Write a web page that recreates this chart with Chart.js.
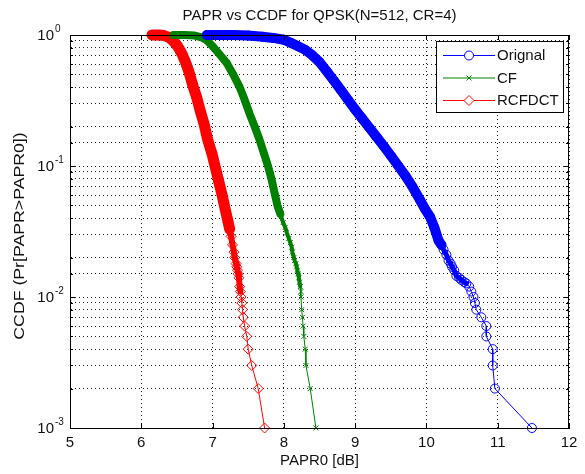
<!DOCTYPE html>
<html>
<head>
<meta charset="utf-8">
<script src="https://cdn.jsdelivr.net/npm/chart.js@4/dist/chart.umd.min.js"></script>
<style>
  body { margin: 0; background: #fff; }
  canvas { display: block; }
</style>
</head>
<body>
<canvas id="papr" width="585" height="474"></canvas>
<script>
// values (PAPR0 in dB, CCDF as probability)
const xTickValues = [5, 6, 7, 8, 9, 10, 11, 12];
const yDecades = [1, 0.1, 0.01, 0.001];
const seriesNames = ['Orignal', 'CF', 'RCFDCT'];

const orignalX = [6.92, 7.05, 7.15, 7.30, 7.50, 7.70, 7.85, 8.00, 8.10, 8.20, 8.30, 8.40, 8.50, 8.60, 8.70, 8.80, 8.90, 9.00, 9.10, 9.20, 9.30, 9.40, 9.50, 9.60, 9.70, 9.80, 9.91, 9.98, 10.05, 10.11, 10.17, 10.21, 10.24, 10.28, 10.31, 10.34, 10.36, 10.39, 10.42, 10.46, 10.49, 10.53, 10.56, 10.60, 10.63, 10.66, 10.68, 10.70, 10.77, 10.84, 10.84, 10.93, 10.93, 10.96, 11.48];
const orignalY = [1.0, 1.0, 0.999, 0.998, 0.99, 0.97, 0.95, 0.92, 0.87, 0.82, 0.77, 0.70, 0.62, 0.53, 0.45, 0.38, 0.32, 0.27, 0.23, 0.196, 0.167, 0.142, 0.12, 0.101, 0.085, 0.070, 0.055, 0.047, 0.041, 0.034, 0.027, 0.025, 0.023, 0.021, 0.019, 0.018, 0.017, 0.016, 0.0145, 0.014, 0.0135, 0.013, 0.0127, 0.012, 0.011, 0.010, 0.009, 0.008, 0.007, 0.006, 0.005, 0.004, 0.003, 0.002, 0.001];

const cfX = [6.45, 6.60, 6.75, 6.85, 6.93, 7.01, 7.10, 7.20, 7.29, 7.38, 7.45, 7.52, 7.59, 7.66, 7.72, 7.78, 7.83, 7.87, 7.91, 7.95, 7.99, 8.02, 8.04, 8.07, 8.09, 8.11, 8.12, 8.14, 8.15, 8.17, 8.18, 8.19, 8.20, 8.21, 8.22, 8.23, 8.24, 8.24, 8.25, 8.26, 8.27, 8.28, 8.30, 8.31, 8.37, 8.45];
const cfY = [1.0, 0.999, 0.99, 0.96, 0.90, 0.81, 0.71, 0.61, 0.50, 0.40, 0.32, 0.25, 0.20, 0.158, 0.125, 0.099, 0.078, 0.062, 0.050, 0.043, 0.037, 0.034, 0.031, 0.028, 0.026, 0.024, 0.022, 0.020, 0.019, 0.018, 0.017, 0.016, 0.015, 0.014, 0.013, 0.012, 0.011, 0.010, 0.008, 0.007, 0.006, 0.005, 0.004, 0.003, 0.002, 0.001];

const rcfdctX = [6.15, 6.24, 6.32, 6.39, 6.45, 6.51, 6.57, 6.62, 6.67, 6.73, 6.78, 6.83, 6.88, 6.93, 6.99, 7.04, 7.09, 7.14, 7.18, 7.22, 7.24, 7.26, 7.28, 7.30, 7.31, 7.33, 7.34, 7.35, 7.36, 7.37, 7.38, 7.39, 7.40, 7.41, 7.42, 7.43, 7.45, 7.48, 7.50, 7.55, 7.64, 7.73];
const rcfdctY = [1.0, 0.999, 0.99, 0.96, 0.90, 0.82, 0.72, 0.62, 0.52, 0.40, 0.33, 0.26, 0.21, 0.16, 0.125, 0.097, 0.075, 0.058, 0.046, 0.037, 0.033, 0.029, 0.025, 0.022, 0.020, 0.018, 0.017, 0.016, 0.015, 0.014, 0.012, 0.011, 0.010, 0.009, 0.008, 0.007, 0.006, 0.005, 0.004, 0.003, 0.002, 0.001];

const FONT = 'Arial, "Liberation Sans", Helvetica, sans-serif';
const INK = '#111';

function toPoints(xs, ys) {
  return xs.map((x, i) => ({ x: x, y: ys[i] }));
}

// dense part of each curve shows as a band of overlapping markers
function bandWidth(hi, lo, wide, mid) {
  return c => {
    const y = Math.min(c.p0.parsed.y, c.p1.parsed.y);
    if (y >= hi) return wide;
    if (y >= lo) return mid;
    return 1;
  };
}

function makeSet(name, xs, ys, color, style, radius, band) {
  return {
    label: name,
    data: toPoints(xs, ys),
    showLine: true,
    borderColor: color,
    borderWidth: 1,
    borderCapStyle: 'round',
    borderJoinStyle: 'round',
    pointStyle: style,
    pointRadius: radius,
    pointBorderWidth: 1,
    pointBorderColor: color,
    pointBackgroundColor: 'rgba(0,0,0,0)',
    clip: false,
    segment: { borderWidth: bandWidth(band[0], band[1], band[2], band[3]) }
  };
}

const datasets = [
  makeSet(seriesNames[0], orignalX, orignalY, 'rgb(0,0,255)', 'circle', 4.5, [0.025, 0.0125, 10, 5]),
  makeSet(seriesNames[1], cfX, cfY, 'rgb(0,128,0)', 'crossRot', 3.5, [0.04, 0.012, 8, 4]),
  makeSet(seriesNames[2], rcfdctX, rcfdctY, 'rgb(255,0,0)', 'rectRot', 5, [0.03, 0.011, 11, 6])
];

const frame = {
  id: 'frame',
  afterDraw(chart) {
    const ctx = chart.ctx;
    const a = chart.chartArea;
    const xs = chart.scales.x, ys = chart.scales.y;
    ctx.save();

    // box and inward tick marks
    ctx.strokeStyle = '#000';
    ctx.lineWidth = 1;
    ctx.strokeRect(Math.round(a.left) + 0.5, Math.round(a.top) + 0.5, Math.round(a.right - a.left) - 1, Math.round(a.bottom - a.top));
    ctx.beginPath();
    xTickValues.forEach(v => {
      const px = Math.round(xs.getPixelForValue(v)) + 0.5;
      ctx.moveTo(px, a.bottom); ctx.lineTo(px, a.bottom - 5);
      ctx.moveTo(px, a.top); ctx.lineTo(px, a.top + 5);
    });
    ys.ticks.forEach(t => {
      const py = Math.round(ys.getPixelForValue(t.value)) + 0.5;
      const len = yDecades.includes(t.value) ? 5 : 3;
      ctx.moveTo(a.left, py); ctx.lineTo(a.left + len, py);
      ctx.moveTo(a.right, py); ctx.lineTo(a.right - len, py);
    });
    ctx.stroke();

    // y tick labels as 10 with a raised exponent
    ctx.fillStyle = INK;
    yDecades.forEach(v => {
      const py = ys.getPixelForValue(v);
      const exp = String(Math.round(Math.log10(v)));
      ctx.font = '15px ' + FONT;
      ctx.textAlign = 'right';
      ctx.textBaseline = 'middle';
      ctx.fillText('10', 54, py + 1);
      ctx.font = '10px ' + FONT;
      ctx.textAlign = 'left';
      ctx.fillText(exp, 55, py - 6);
    });

    // titles
    const cx = (a.left + a.right) / 2;
    ctx.font = '15px ' + FONT;
    ctx.textAlign = 'center';
    ctx.textBaseline = 'middle';
    ctx.fillText('PAPR vs CCDF for QPSK(N=512, CR=4)', cx, 16);
    ctx.fillText('PAPR0 [dB]', cx, 461);
    ctx.save();
    ctx.translate(20, 236);
    ctx.rotate(-Math.PI / 2);
    ctx.scale(1.18, 1);
    ctx.fillText('CCDF (Pr[PAPR>PAPR0])', 0, 0);
    ctx.restore();

    // legend box
    const lx = 436, ly = 41, lw = 127, lh = 71;
    ctx.fillStyle = '#fff';
    ctx.fillRect(lx, ly, lw, lh);
    ctx.strokeStyle = '#000';
    ctx.strokeRect(lx + 0.5, ly + 0.5, lw, lh);
    const rows = [55, 77.5, 100];
    chart.data.datasets.forEach((ds, i) => {
      const y = rows[i];
      ctx.strokeStyle = ds.borderColor;
      ctx.lineWidth = 1;
      ctx.beginPath();
      ctx.moveTo(443, y + 0.5); ctx.lineTo(495, y + 0.5);
      ctx.stroke();
      ctx.fillStyle = '#fff';
      Chart.helpers.drawPoint(ctx, { pointStyle: ds.pointStyle, radius: ds.pointRadius, borderWidth: 1, rotation: 0 }, 469, y + 0.5);
      ctx.fillStyle = INK;
      ctx.font = '15px ' + FONT;
      ctx.textAlign = 'left';
      ctx.textBaseline = 'middle';
      ctx.fillText(ds.label, 497, y + 1);
    });
    ctx.restore();
  }
};

new Chart(document.getElementById('papr'), {
  type: 'scatter',
  data: { datasets: datasets },
  options: {
    responsive: false,
    animation: false,
    layout: { padding: { top: 35, right: 16, left: 0, bottom: 0 } },
    plugins: {
      legend: { display: false },
      title: { display: false },
      tooltip: { enabled: false }
    },
    scales: {
      x: {
        type: 'linear',
        min: 5,
        max: 12,
        afterFit: s => { s.height = 46; },
        afterBuildTicks: s => { s.ticks = xTickValues.map(v => ({ value: v })); },
        ticks: { color: INK, font: { family: FONT, size: 15 }, padding: 6, maxRotation: 0 },
        grid: { color: '#222', lineWidth: 1, drawTicks: false },
        border: { display: true, color: '#000', dash: [1, 3] }
      },
      y: {
        type: 'logarithmic',
        min: 0.001,
        max: 1,
        afterFit: s => { s.width = 70; },
        ticks: { display: false },
        grid: { color: '#222', lineWidth: 1, drawTicks: false },
        border: { display: true, color: '#000', dash: [1, 3] }
      }
    }
  },
  plugins: [frame]
});
</script>
</body>
</html>
